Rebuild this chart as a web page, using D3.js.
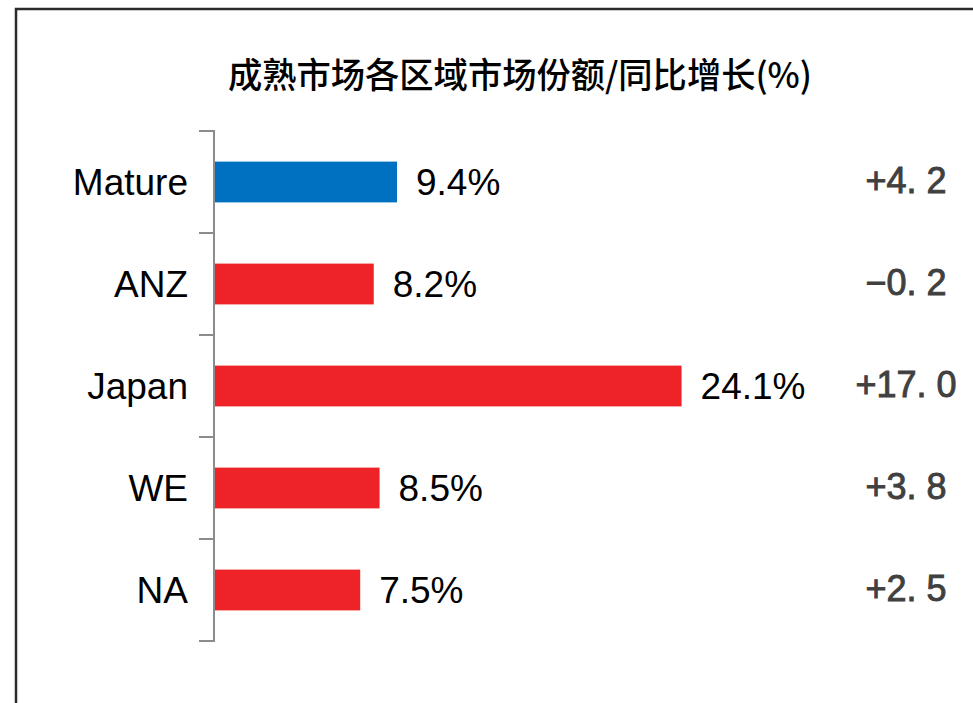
<!DOCTYPE html>
<html>
<head>
<meta charset="utf-8">
<script src="https://cdn.jsdelivr.net/npm/d3@7"></script>
<style>
html,body{margin:0;padding:0;background:#fff;}
svg{display:block;}
</style>
</head>
<body>
<svg id="chart" width="973" height="703"></svg>
<script>
const title = "成熟市场各区域市场份额/同比增长(%)";
const categories = ["Mature", "ANZ", "Japan", "WE", "NA"];
const shareValues = [9.4, 8.2, 24.1, 8.5, 7.5];
const growthValues = [4.2, -0.2, 17.0, 3.8, 2.5];
const barColors = ["#0070c0", "#ee2327", "#ee2327", "#ee2327", "#ee2327"];

const svg = d3.select("#chart");
const font = "'Liberation Sans', Arial, sans-serif";

// frame (left and top border)
svg.append("path")
  .attr("d", "M16,703 L16,9 L973,9")
  .attr("fill", "none")
  .attr("stroke", "#2b2b2b")
  .attr("stroke-width", 2.5);

// title
svg.append("text")
  .attr("x", 520)
  .attr("y", 72)
  .attr("text-anchor", "middle")
  .attr("dominant-baseline", "central")
  .attr("font-family", "'Noto Sans CJK SC', sans-serif")
  .attr("font-size", 35)
  .attr("font-weight", 500)
  .attr("textLength", 584)
  .attr("lengthAdjust", "spacingAndGlyphs")
  .attr("fill", "#000")
  .text(title);

const y = d3.scaleBand()
  .domain(categories)
  .range([131, 641])
  .paddingInner(0.6)
  .paddingOuter(0.3);

const x = d3.scaleLinear()
  .domain([0, 25])
  .range([215, 699]);

const axisX = 214;
const step = y.step();
const boundaries = d3.range(categories.length + 1).map(i => y.range()[0] + i * step);

const axisG = svg.append("g");
axisG.append("line")
  .attr("x1", axisX).attr("x2", axisX)
  .attr("y1", boundaries[0]).attr("y2", boundaries[boundaries.length - 1])
  .attr("stroke", "#8c8c8c").attr("stroke-width", 2);
axisG.selectAll("line.tick")
  .data(boundaries)
  .join("line")
  .attr("class", "tick")
  .attr("x1", axisX - 15).attr("x2", axisX + 1)
  .attr("y1", d => d).attr("y2", d => d)
  .attr("stroke", "#8c8c8c").attr("stroke-width", 2);

// category labels
svg.append("g").selectAll("text")
  .data(categories)
  .join("text")
  .attr("x", 188)
  .attr("y", d => y(d) + y.bandwidth() / 2)
  .attr("text-anchor", "end")
  .attr("dominant-baseline", "central")
  .attr("font-family", font)
  .attr("font-size", 37)
  .attr("fill", "#000")
  .text(d => d);

// bars
svg.append("g").selectAll("rect")
  .data(categories)
  .join("rect")
  .attr("x", x(0))
  .attr("y", d => y(d))
  .attr("width", (d, i) => x(shareValues[i]) - x(0))
  .attr("height", y.bandwidth())
  .attr("fill", (d, i) => barColors[i]);

// value labels
svg.append("g").selectAll("text")
  .data(categories)
  .join("text")
  .attr("x", (d, i) => x(shareValues[i]) + 19)
  .attr("y", d => y(d) + y.bandwidth() / 2)
  .attr("dominant-baseline", "central")
  .attr("font-family", font)
  .attr("font-size", 37)
  .attr("fill", "#000")
  .text((d, i) => shareValues[i].toFixed(1) + "%");

// growth labels
const fmtGrowth = v => (v < 0 ? "\u2212" : "+") + Math.abs(v).toFixed(1).replace(".", ". ");
svg.append("g").selectAll("text")
  .data(categories)
  .join("text")
  .attr("x", 906)
  .attr("y", d => y(d) + y.bandwidth() / 2 - 2)
  .attr("text-anchor", "middle")
  .attr("dominant-baseline", "central")
  .attr("font-family", font)
  .attr("font-size", 36)
  .attr("fill", "#404040")
  .attr("stroke", "#404040")
  .attr("stroke-width", 0.9)
  .text((d, i) => fmtGrowth(growthValues[i]));
</script>
</body>
</html>
